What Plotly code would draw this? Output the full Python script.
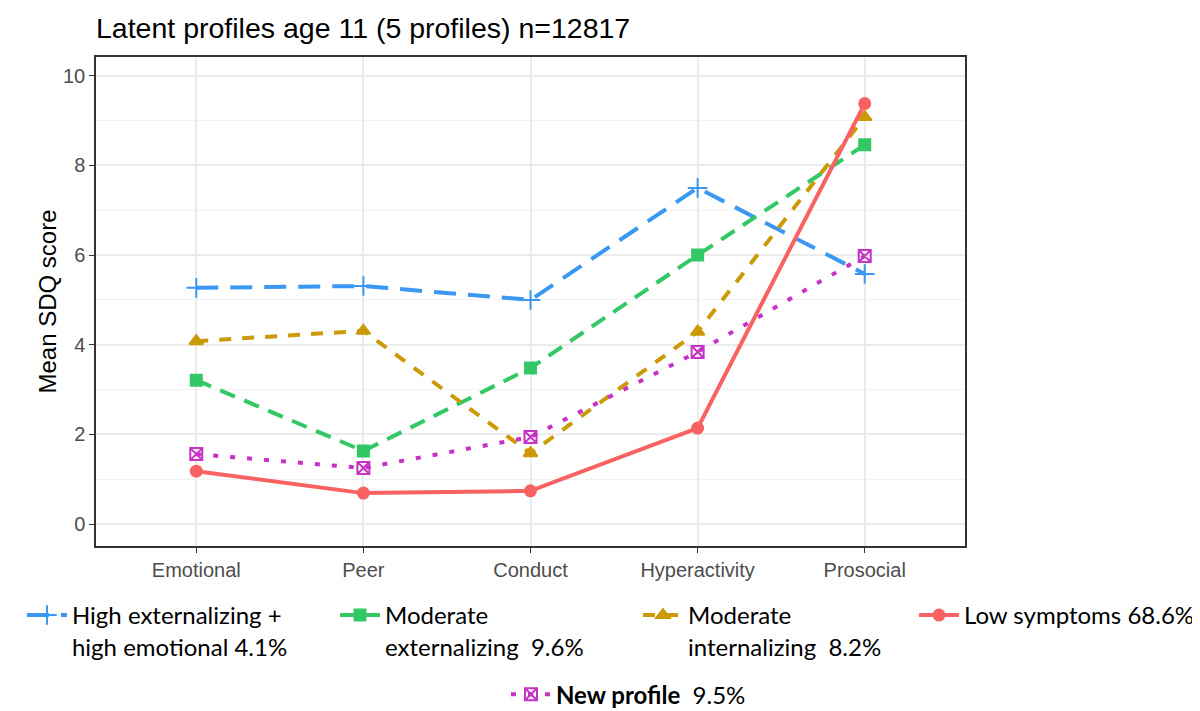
import plotly.graph_objects as go

categories = ["Emotional", "Peer", "Conduct", "Hyperactivity", "Prosocial"]

high_ext_emotional = [5.27, 5.31, 5.00, 7.50, 5.58]
moderate_ext = [3.21, 1.63, 3.48, 6.00, 8.46]
moderate_int = [4.08, 4.31, 1.58, 4.29, 9.08]
new_profile = [1.56, 1.25, 1.94, 3.84, 5.98]
low_symptoms = [1.18, 0.69, 0.74, 2.14, 9.38]

y_ticks = [0, 2, 4, 6, 8, 10]

series = [
    dict(name="High externalizing +<br>high emotional 4.1%", y=high_ext_emotional,
         color="#3A97F2", dash="22px,12px", symbol="cross-thin-open", size=14, legend="legend6"),
    dict(name="Moderate<br>externalizing\u00a0 9.6%", y=moderate_ext,
         color="#33C866", dash="16px,10px", symbol="square", size=11, legend="legend2"),
    dict(name="Moderate<br>internalizing\u00a0 8.2%", y=moderate_int,
         color="#CC9A06", dash="12px,11px", symbol="triangle-up", size=12, legend="legend3"),
    dict(name="<b>New profile</b>\u00a0 9.5%", y=new_profile,
         color="#C632C6", dash="5px,12px", symbol="square-x-open", size=12, legend="legend5"),
    dict(name="Low symptoms 68.6%", y=low_symptoms,
         color="#F86262", dash="solid", symbol="circle", size=11, legend="legend4"),
]

fig = go.Figure()
for s in series:
    fig.add_trace(go.Scatter(
        x=categories, y=s["y"], name=s["name"], mode="lines+markers",
        line=dict(color=s["color"], width=4, dash=s["dash"]),
        marker=dict(symbol=s["symbol"], size=s["size"], color=s["color"],
                    line=dict(color=s["color"], width=2)),
        legend=s["legend"],
    ))

legend_font = dict(family="Lato, Carlito, sans-serif", size=24, color="black")
common = dict(font=legend_font, bgcolor="rgba(0,0,0,0)", xanchor="left", yanchor="top",
              valign="top", itemwidth=40, tracegroupgap=0)

fig.update_layout(
    width=1200, height=711,
    margin=dict(l=88, r=243, t=49, b=173, autoexpand=False),
    paper_bgcolor="white", plot_bgcolor="white",
    title=dict(text="Latent profiles age 11 (5 profiles) n=12817",
               font=dict(family="Liberation Sans, Arial, sans-serif", size=28.5, color="black"),
               x=88/1200, xanchor="left", y=1 - 20/711, yanchor="middle"),
    xaxis=dict(type="category", range=[-0.6, 4.6], showgrid=True, gridcolor="#EBEBEB",
               gridwidth=1.5, showline=True, linecolor="#333333", linewidth=1.5, mirror=True,
               ticks="outside", ticklen=5, tickcolor="#333333", zeroline=False,
               tickfont=dict(family="Liberation Sans, Arial, sans-serif", size=20, color="#4D4D4D")),
    yaxis=dict(range=[-0.49, 10.42], tickvals=y_ticks, showgrid=True, gridcolor="#EBEBEB",
               gridwidth=1.5, showline=True, linecolor="#333333", linewidth=1.5, mirror=True,
               ticks="outside", ticklen=5, tickcolor="#333333", zeroline=False,
               minor=dict(dtick=1, showgrid=True, gridcolor="#F2F2F2", gridwidth=1),
               title=dict(text="Mean SDQ score", standoff=0,
                          font=dict(family="Liberation Sans, Arial, sans-serif", size=24, color="black")),
               tickfont=dict(family="Liberation Sans, Arial, sans-serif", size=20, color="#4D4D4D")),
    showlegend=True,
    legend6=dict(x=-0.0852, y=-0.096, **common),
    legend2=dict(x=0.2750, y=-0.096, **common),
    legend3=dict(x=0.6237, y=-0.096, **common),
    legend4=dict(x=0.9413, y=-0.096, **common),
    legend5=dict(x=0.4718, y=-0.258, **common),
)

fig.write_html("out.html")
